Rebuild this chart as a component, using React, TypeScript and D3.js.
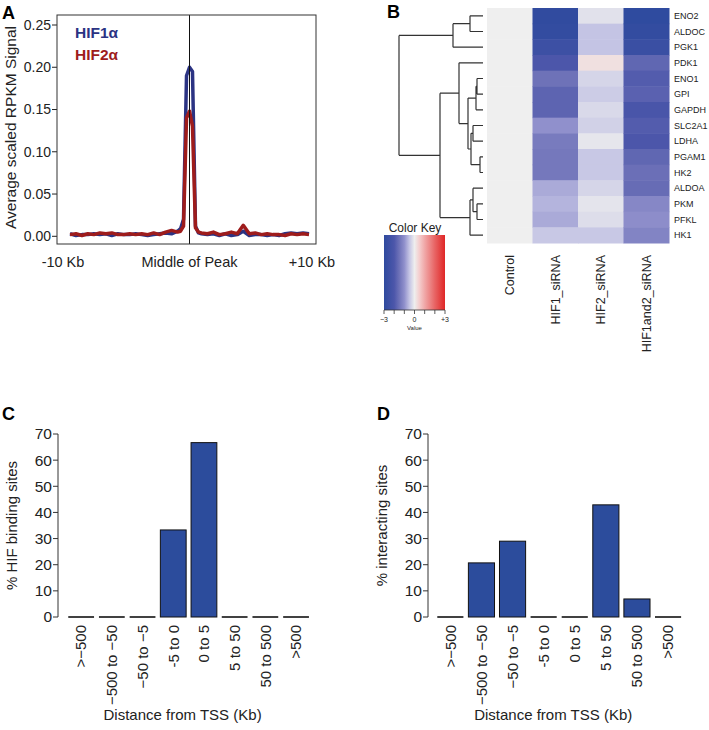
import React from "react";
import * as d3 from "d3";

const FONT = "'Liberation Sans', Arial, Helvetica, sans-serif";
const TXT = "#222";

// ---------- Panel A data ----------
const profileX = [
  -10, -9.5, -9, -8.5, -8, -7.5, -7, -6.5, -6, -5.5, -5, -4.5, -4, -3.5, -3, -2.5, -2, -1.5, -1,
  -0.75, -0.5, -0.25, 0, 0.25, 0.5, 0.75,
  1, 1.5, 2, 2.5, 3, 3.5, 4, 4.5, 5, 5.5, 6, 6.5, 7, 7.5, 8, 8.5, 9, 9.5, 10,
];
const hif1Signal = [
  0.003, 0.001, 0.002, 0.002, 0.003, 0.002, 0.003, 0.001, 0.003, 0.002, 0.002, 0.003, 0.002, 0.001, 0.002, 0.003, 0.004, 0.003, 0.006,
  0.009, 0.02, 0.19, 0.2, 0.195, 0.012, 0.004,
  0.003, 0.002, 0.003, 0.001, 0.003, 0.001, 0.002, 0.006, 0.001, 0.002, 0.002, 0.001, 0.002, 0.001, 0.003, 0.004, 0.003, 0.004, 0.003,
];
const hif2Signal = [
  0.002, 0.003, 0.001, 0.003, 0.002, 0.004, 0.003, 0.004, 0.002, 0.002, 0.003, 0.002, 0.003, 0.002, 0.004, 0.002, 0.005, 0.007, 0.005,
  0.006, 0.012, 0.14, 0.148, 0.13, 0.01, 0.005,
  0.004, 0.003, 0.005, 0.002, 0.003, 0.005, 0.003, 0.013, 0.003, 0.004, 0.002, 0.003, 0.002, 0.002, 0.001, 0.003, 0.002, 0.003, 0.002,
];
const aYTicks = [0, 0.05, 0.1, 0.15, 0.2, 0.25];
const aXLabels = ["-10 Kb", "Middle of Peak", "+10 Kb"];
const seriesNames = ["HIF1α", "HIF2α"];

// ---------- Panel B data ----------
const genes = ["ENO2", "ALDOC", "PGK1", "PDK1", "ENO1", "GPI", "GAPDH", "SLC2A1", "LDHA", "PGAM1", "HK2", "ALDOA", "PKM", "PFKL", "HK1"];
const conditions = ["Control", "HIF1_siRNA", "HIF2_siRNA", "HIF1and2_siRNA"];
const controlVals = [0, 0, 0, 0, 0, 0, 0, 0, 0, 0, 0, 0, 0, 0, 0];
const hif1Vals = [-2.9, -2.85, -2.5, -2.0, -1.5, -1.75, -1.75, -1.0, -1.35, -1.4, -1.4, -0.75, -0.65, -0.75, -0.45];
const hif2Vals = [-0.15, -0.5, -0.5, 0.2, -0.3, -0.4, -0.25, -0.35, -0.1, -0.45, -0.45, -0.3, -0.12, -0.2, -0.45];
const hif12Vals = [-2.95, -2.85, -2.6, -1.7, -1.9, -1.8, -2.1, -1.9, -2.0, -1.7, -1.55, -1.6, -1.15, -1.05, -1.2];
const colorStops = [-3, -2, -1.5, -1, -0.5, 0, 0.5, 1, 2, 3];
const colorStopColors = ["#2e4a9e", "#4c56aa", "#6e72b8", "#9090cc", "#c4c4e4", "#eeeeee", "#f4cccc", "#f0a8a8", "#e86464", "#e02626"];
const keyTicks = [-3, -2, -1, 0, 1, 2, 3];
const keyLabels = [{ v: -3, t: "−3" }, { v: 0, t: "0" }, { v: 3, t: "+3" }];

// dendrogram (merge heights)
const L = (name: string) => ({ name });
const dendro = {
  h: 84,
  children: [
    { h: 30, children: [{ h: 13, children: [L("ENO2"), L("ALDOC")] }, L("PGK1")] },
    {
      h: 43,
      children: [
        {
          h: 24,
          children: [
            L("PDK1"),
            {
              h: 15,
              children: [
                { h: 7, children: [{ h: 6, children: [L("ENO1"), L("GPI")] }, L("GAPDH")] },
                { h: 12, children: [{ h: 10, children: [L("SLC2A1"), L("LDHA")] }, { h: 3, children: [L("PGAM1"), L("HK2")] }] },
              ],
            },
          ],
        },
        { h: 13, children: [{ h: 10, children: [L("ALDOA"), { h: 6, children: [L("PKM"), L("PFKL")] }] }, L("HK1")] },
      ],
    },
  ],
};

// ---------- Panels C / D data ----------
const tssBins = [">−500", "−500 to −50", "−50 to −5", "-5 to 0", "0 to 5", "5 to 50", "50 to 500", ">500"];
const hifBindingPct = [0, 0, 0, 33.3, 66.7, 0, 0, 0];
const interactingPct = [0, 20.7, 29.0, 0, 0, 42.9, 6.9, 0];
const barYTicks = [0, 10, 20, 30, 40, 50, 60, 70];

function PanelA() {
  const x = d3.scaleLinear().domain([-10, 10]).range([70, 309]);
  const y = d3.scaleLinear().domain([0, 0.25]).range([236.3, 25]);
  const box = { x0: 57, x1: 316, y0: 15, y1: 244 };
  const line = d3
    .line<number>()
    .x((_, i) => x(profileX[i]))
    .y((d) => y(d));
  const labelX = [x(-10) - 7, x(0), x(10) + 3];
  return (
    <g>
      <text x={2} y={19} fontSize={18} fontWeight="bold" fill="#000">A</text>
      {aYTicks.map((t) => (
        <g key={t}>
          <line x1={box.x0 - 5} x2={box.x0} y1={y(t)} y2={y(t)} stroke="#222" />
          <text x={box.x0 - 6} y={y(t)} dy="0.35em" textAnchor="end" fontSize={14} fill={TXT}>
            {d3.format(".2f")(t)}
          </text>
        </g>
      ))}
      <path d={line(hif1Signal) || ""} fill="none" stroke="#2b3383" strokeWidth={3.5} strokeLinejoin="round" />
      <path d={line(hif2Signal) || ""} fill="none" stroke="#9e1c1c" strokeWidth={3.5} strokeLinejoin="round" />
      <line x1={x(0)} x2={x(0)} y1={box.y0} y2={box.y1} stroke="#111" strokeWidth={1} />
      <rect x={box.x0} y={box.y0} width={box.x1 - box.x0} height={box.y1 - box.y0} fill="none" stroke="#333" strokeWidth={1} />
      <text x={75} y={38} fontSize={15.5} fontWeight="bold" fill="#2b3383">{seriesNames[0]}</text>
      <text x={75} y={60} fontSize={15.5} fontWeight="bold" fill="#9e1c1c">{seriesNames[1]}</text>
      {aXLabels.map((t, i) => (
        <text key={t} x={labelX[i]} y={267} textAnchor="middle" fontSize={14.5} fill={TXT}>{t}</text>
      ))}
      <text transform={`translate(16,${(box.y0 + box.y1) / 2 - 2}) rotate(-90)`} textAnchor="middle" fontSize={15.5} fill={TXT}>
        Average scaled RPKM Signal
      </text>
    </g>
  );
}

function PanelB() {
  const color = d3.scaleLinear<string>().domain(colorStops).range(colorStopColors).clamp(true);
  const xb = d3.scaleBand().domain(conditions).range([487, 669]);
  const yb = d3.scaleBand().domain(genes).range([8, 243]);
  const matrix = [controlVals, hif1Vals, hif2Vals, hif12Vals];
  const hx = d3.scaleLinear().domain([0, 84]).range([483, 399]);

  const root = d3.hierarchy<any>(dendro);
  root.eachAfter((n: any) => {
    if (!n.children) n.yy = (yb(n.data.name) || 0) + yb.bandwidth() / 2;
    else n.yy = d3.mean(n.children, (c: any) => c.yy);
    n.xx = hx(n.data.h || 0);
  });
  const segs: string[] = [];
  root.each((n: any) => {
    if (!n.children) return;
    const ys = n.children.map((c: any) => c.yy);
    segs.push(`M${n.xx},${d3.min(ys)}V${d3.max(ys)}`);
    n.children.forEach((c: any) => segs.push(`M${n.xx},${c.yy}H${c.xx}`));
  });

  const keyX = d3.scaleLinear().domain([-3, 3]).range([384, 445]);
  return (
    <g>
      <text x={387} y={18} fontSize={18} fontWeight="bold" fill="#000">B</text>
      {matrix.map((col, ci) =>
        col.map((v, gi) => (
          <rect
            key={`${ci}-${gi}`}
            x={xb(conditions[ci])}
            y={yb(genes[gi])}
            width={xb.bandwidth() + 0.5}
            height={yb.bandwidth() + 0.5}
            fill={ci === 0 ? "#efefef" : color(v)}
          />
        ))
      )}
      <path d={segs.join("")} fill="none" stroke="#333" strokeWidth={1.2} />
      {genes.map((g) => (
        <text key={g} x={674} y={(yb(g) || 0) + yb.bandwidth() / 2} dy="0.35em" fontSize={9} fill={TXT}>{g}</text>
      ))}
      {conditions.map((c) => (
        <text
          key={c}
          transform={`translate(${(xb(c) || 0) + xb.bandwidth() / 2},255) rotate(-90)`}
          dy="0.35em"
          textAnchor="end"
          fontSize={12.5}
          fill={TXT}
        >
          {c}
        </text>
      ))}
      <defs>
        <linearGradient id="keygrad" x1="0" x2="1" y1="0" y2="0">
          {colorStops.map((s, i) => (
            <stop key={i} offset={`${((s + 3) / 6) * 100}%`} stopColor={colorStopColors[i]} />
          ))}
        </linearGradient>
      </defs>
      <text x={415} y={232} textAnchor="middle" fontSize={12} fill={TXT}>Color Key</text>
      <rect x={keyX(-3)} y={235} width={keyX(3) - keyX(-3)} height={75} fill="url(#keygrad)" />
      {keyTicks.map((t) => (
        <line key={t} x1={keyX(t)} x2={keyX(t)} y1={310} y2={314} stroke="#333" strokeWidth={0.8} />
      ))}
      <line x1={keyX(-3)} x2={keyX(3)} y1={310} y2={310} stroke="#333" strokeWidth={0.8} />
      {keyLabels.map((k) => (
        <text key={k.t} x={keyX(k.v)} y={322} textAnchor="middle" fontSize={7} fill={TXT}>{k.t}</text>
      ))}
      <text x={keyX(0)} y={330} textAnchor="middle" fontSize={6} fill={TXT}>Value</text>
    </g>
  );
}

function BarPanel(props: {
  label: string;
  labelX: number;
  axisX: number;
  range: [number, number];
  values: number[];
  yTitle: string;
  yTitleX: number;
}) {
  const { label, labelX, axisX, range, values, yTitle, yTitleX } = props;
  const x = d3.scaleBand().domain(tssBins).range(range).paddingInner(0.16).paddingOuter(0.08);
  const y = d3.scaleLinear().domain([0, 70]).range([617, 434]);
  const center = (range[0] + range[1]) / 2;
  return (
    <g>
      <text x={labelX} y={420} fontSize={18} fontWeight="bold" fill="#000">{label}</text>
      <line x1={axisX} x2={axisX} y1={y(70)} y2={y(0)} stroke="#333" />
      {barYTicks.map((t) => (
        <g key={t}>
          <line x1={axisX - 5} x2={axisX} y1={y(t)} y2={y(t)} stroke="#333" />
          <text x={axisX - 6} y={y(t)} dy="0.35em" textAnchor="end" fontSize={15.5} fill={TXT}>{t}</text>
        </g>
      ))}
      {values.map((v, i) =>
        v > 0 ? (
          <rect
            key={i}
            x={x(tssBins[i])}
            y={y(v)}
            width={x.bandwidth()}
            height={y(0) - y(v)}
            fill="#2c4c9c"
            stroke="#111"
            strokeWidth={1}
          />
        ) : (
          <line key={i} x1={x(tssBins[i])} x2={(x(tssBins[i]) || 0) + x.bandwidth()} y1={y(0)} y2={y(0)} stroke="#111" strokeWidth={1.6} />
        )
      )}
      {tssBins.map((b) => (
        <text
          key={b}
          transform={`translate(${(x(b) || 0) + x.bandwidth() / 2},625) rotate(-90)`}
          dy="0.35em"
          textAnchor="end"
          fontSize={15}
          fill={TXT}
        >
          {b}
        </text>
      ))}
      <text x={center - 6} y={720} textAnchor="middle" fontSize={15} fill={TXT}>Distance from TSS (Kb)</text>
      <text transform={`translate(${yTitleX},${y(35)}) rotate(-90)`} textAnchor="middle" fontSize={15} fill={TXT}>
        {yTitle}
      </text>
    </g>
  );
}

export default function App() {
  return (
    <svg
      width={709}
      height={730}
      viewBox="0 0 709 730"
      style={{ position: "absolute", left: 0, top: 0, background: "#fff" }}
      fontFamily={FONT}
    >
      <rect x={0} y={0} width={709} height={730} fill="#fff" />
      <PanelA />
      <PanelB />
      <BarPanel label="C" labelX={2} axisX={58} range={[65.8, 311.4]} values={hifBindingPct} yTitle="% HIF binding sites" yTitleX={17} />
      <BarPanel label="D" labelX={377} axisX={428} range={[434.8, 683.6]} values={interactingPct} yTitle="% interacting sites" yTitleX={387} />
    </svg>
  );
}
